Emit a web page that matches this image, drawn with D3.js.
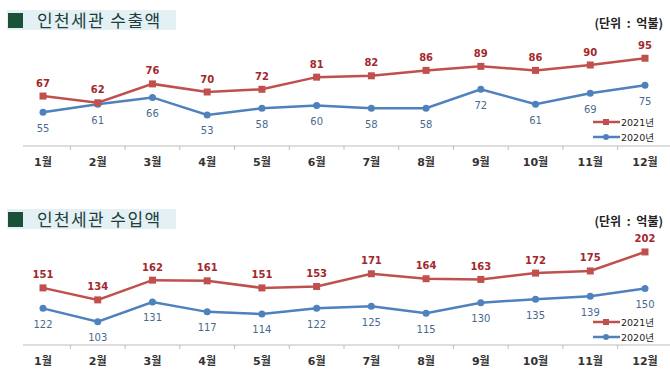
<!DOCTYPE html>
<html><head><meta charset="utf-8">
<script src="https://cdn.jsdelivr.net/npm/d3@7/dist/d3.min.js"></script>
<style>
html,body{margin:0;padding:0;background:#fff;}
svg{display:block;}
</style></head>
<body>
<svg id="c" width="670" height="377"></svg>
<script>
const months = ["1월","2월","3월","4월","5월","6월","7월","8월","9월","10월","11월","12월"];
const exportTitle = "인천세관 수출액";
const importTitle = "인천세관 수입액";
const unitLabel = "(단위 : 억불)";
const seriesNames = ["2021년","2020년"];
const export2021 = [67,62,76,70,72,81,82,86,89,86,90,95];
const export2020 = [55,61,66,53,58,60,58,58,72,61,69,75];
const import2021 = [151,134,162,161,151,153,171,164,163,172,175,202];
const import2020 = [122,103,131,117,114,122,125,115,130,135,139,150];

const svg = d3.select("#c");
const RED = "#C0504D", BLUE = "#4F81BD";
const x = d3.scalePoint().domain(months).range([43, 645]);
const step = x.step();

function panel(cfg) {
  const g = svg.append("g");
  // title
  g.append("rect").attr("x", 7).attr("y", cfg.top + 10).attr("width", 169).attr("height", 20).attr("fill", "#e4f1f4");
  g.append("rect").attr("x", 8).attr("y", cfg.top + 13).attr("width", 15).attr("height", 15).attr("fill", "#1b5138");
  g.append("text").attr("x", 37).attr("y", cfg.top + 26.5)
    .attr("font-family", "'Noto Sans CJK KR'").attr("font-size", 17).attr("letter-spacing", 1.4)
    .attr("fill", "#203c3c").text(cfg.title);
  g.append("text").attr("x", 663).attr("y", cfg.unitY).attr("text-anchor", "end")
    .attr("font-family", "'Noto Sans CJK KR'").attr("font-weight", "bold").attr("font-size", 12)
    .attr("word-spacing", 3).attr("fill", "#222").text(unitLabel);

  const y = d3.scaleLinear().domain(cfg.domain).range(cfg.range);
  const axisY = cfg.range[0];
  // axis
  g.append("line").attr("x1", 23).attr("x2", 670).attr("y1", axisY).attr("y2", axisY)
    .attr("stroke", "#bdbdbd").attr("stroke-width", 1);
  months.slice(1).forEach(m => {
    const tx = x(m) - step / 2;
    g.append("line").attr("x1", tx).attr("x2", tx).attr("y1", axisY).attr("y2", axisY + 4)
      .attr("stroke", "#bdbdbd").attr("stroke-width", 1);
  });
  g.selectAll(".ml").data(months).enter().append("text")
    .attr("x", d => x(d)).attr("y", axisY + 20).attr("text-anchor", "middle")
    .attr("font-family", "'DejaVu Sans','Noto Sans CJK KR'").attr("font-weight", "bold").attr("font-size", 11)
    .attr("fill", "#333").text(d => d);

  const line = d3.line().x((d, i) => x(months[i])).y(d => y(d));
  // 2020 (blue)
  g.append("path").datum(cfg.s2020).attr("d", line).attr("fill", "none").attr("stroke", BLUE).attr("stroke-width", 2.5);
  g.selectAll(".bm").data(cfg.s2020).enter().append("circle")
    .attr("cx", (d, i) => x(months[i])).attr("cy", d => y(d)).attr("r", 3.5).attr("fill", BLUE);
  g.selectAll(".bl").data(cfg.s2020).enter().append("text")
    .attr("x", (d, i) => x(months[i])).attr("y", d => y(d) + 19.5).attr("text-anchor", "middle")
    .attr("font-family", "'DejaVu Sans'").attr("font-size", 10).attr("fill", "#4a6a8c").text(d => d);
  // 2021 (red)
  g.append("path").datum(cfg.s2021).attr("d", line).attr("fill", "none").attr("stroke", RED).attr("stroke-width", 2.5);
  g.selectAll(".rm").data(cfg.s2021).enter().append("rect")
    .attr("x", (d, i) => x(months[i]) - 3.5).attr("y", d => y(d) - 3.5).attr("width", 7).attr("height", 7).attr("fill", RED);
  g.selectAll(".rl").data(cfg.s2021).enter().append("text")
    .attr("x", (d, i) => x(months[i])).attr("y", d => y(d) - 9.5).attr("text-anchor", "middle")
    .attr("font-family", "'DejaVu Sans'").attr("font-weight", "bold").attr("font-size", 10).attr("fill", "#a3282c").text(d => d);

  // legend
  const lg = [[RED, seriesNames[0], "rect"], [BLUE, seriesNames[1], "circle"]];
  lg.forEach((l, i) => {
    const ly = cfg.legendY + i * 15;
    g.append("line").attr("x1", 593).attr("x2", 620).attr("y1", ly).attr("y2", ly).attr("stroke", l[0]).attr("stroke-width", 2.5);
    if (l[2] === "rect") g.append("rect").attr("x", 603).attr("y", ly - 3).attr("width", 6).attr("height", 6).attr("fill", l[0]);
    else g.append("circle").attr("cx", 606).attr("cy", ly).attr("r", 3).attr("fill", l[0]);
    g.append("text").attr("x", 621).attr("y", ly + 3.5)
      .attr("font-family", "'DejaVu Sans','Noto Sans CJK KR'").attr("font-size", 9.5).attr("fill", "#222").text(l[1]);
  });
}

panel({top: 0, title: exportTitle, unitY: 28, domain: [30, 100], range: [146, 51.5],
  s2021: export2021, s2020: export2020, legendY: 122});
panel({top: 199, title: importTitle, unitY: 226, domain: [70, 210], range: [345, 246.3],
  s2021: import2021, s2020: import2020, legendY: 322});
</script>
</body></html>
